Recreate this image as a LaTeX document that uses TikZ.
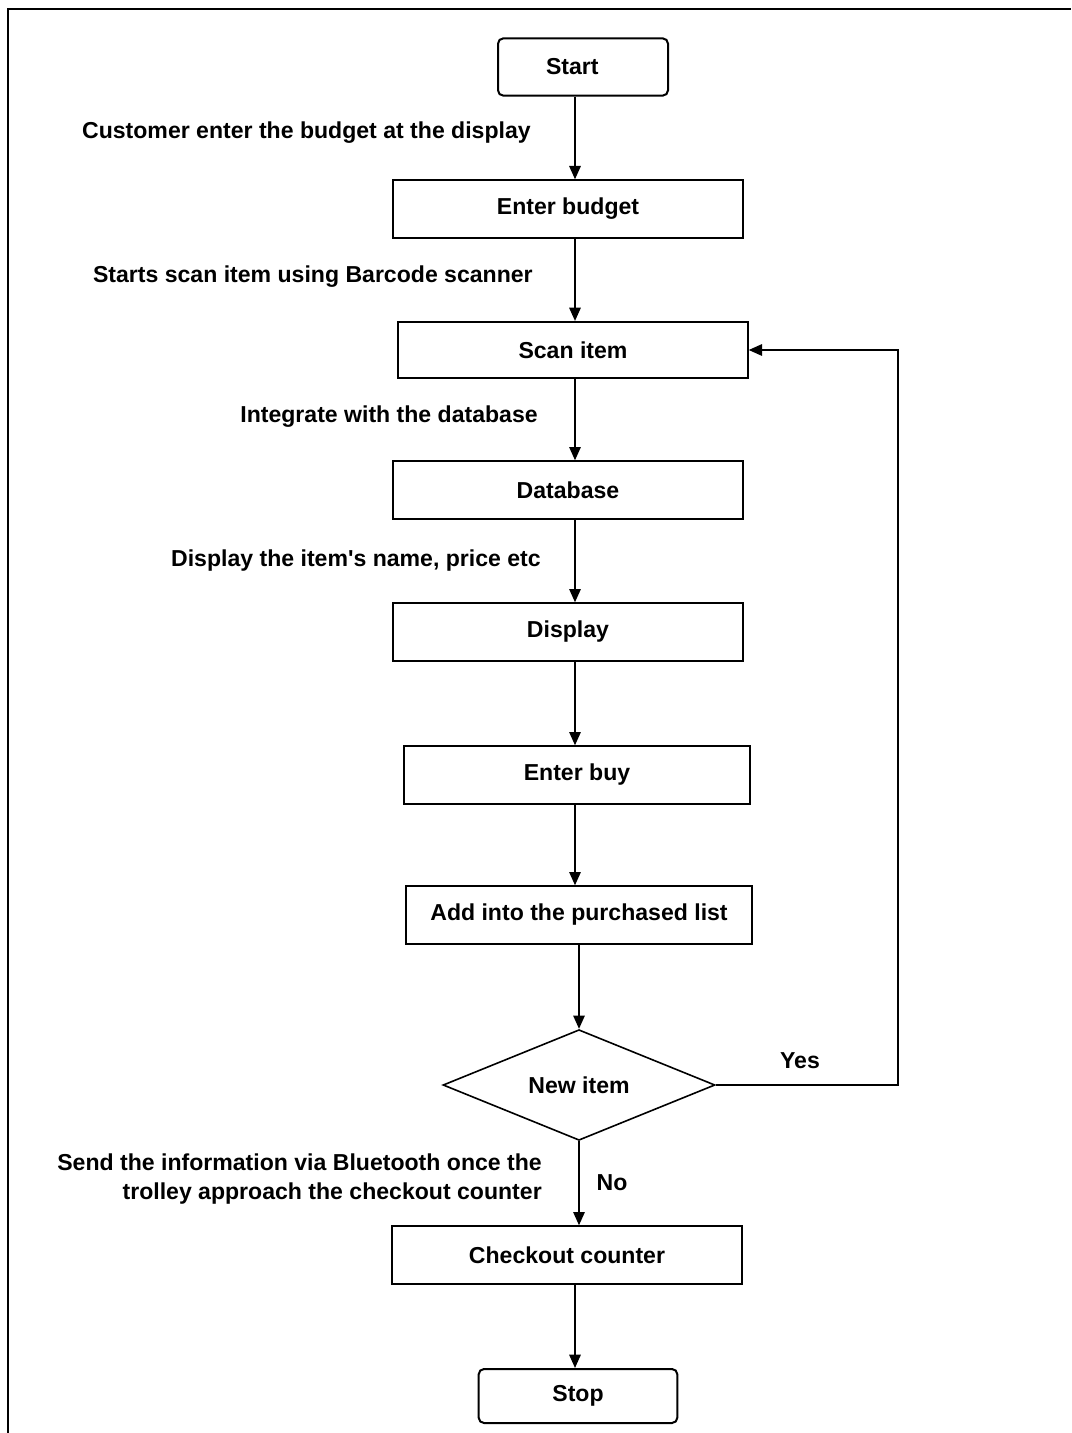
\documentclass[tikz,border=0pt]{standalone}
\usepackage{fontspec}
\setmainfont{Liberation Sans}
\newfontfamily\plainfnt{Liberation Sans}
\usetikzlibrary{arrows.meta,shapes.geometric}
\tikzset{
  box/.style={draw, line width=1.5pt, minimum width=262pt, minimum height=43pt, inner sep=0pt, font=\fontsize{17.3}{21.75}\selectfont\bfseries},
  term/.style={box, rounded corners=4pt},
  dec/.style={draw, diamond, line width=1.2pt, minimum width=204pt, minimum height=83pt, aspect=2.45, inner sep=0pt, font=\fontsize{17.3}{21.75}\selectfont\bfseries},
  arr/.style={line width=1.5pt, -{Triangle[length=10pt,width=8.5pt]}},
  lbl/.style={inner sep=0pt, font=\fontsize{17.3}{21.75}\selectfont\bfseries},
}
\begin{document}
\begin{tikzpicture}[x=0.75pt,y=-0.75pt]
\useasboundingbox (0,0) rectangle (1071,1433);
\draw[line width=1.5pt] (8,1433) -- (8,9) -- (1071,9);
\coordinate (X) at (575,0);
\node[term, minimum width=127.5pt, text width=118pt, align=center] (start) at (583,67) {\hspace*{-16pt}Start};
\node[box] (budget) at (568,209) {Enter budget};
\node[box, minimum height=42pt] (scan) at (573,350) {Scan item};
\node[box] (db) at (568,490) {Database};
\node[box] (disp) at (568,632) {Display};
\node[box, minimum width=259.5pt] (buy) at (577,775) {Enter buy};
\node[box, minimum width=260pt] (add) at (579,915) {Add into the purchased list};
\node[dec] (new) at (579,1085) {New item};
\node[box] (check) at (567,1255) {Checkout counter};
\node[term, minimum width=149pt, minimum height=40.5pt] (stop) at (578,1396) {Stop};
\coordinate (loopA) at (898,1085);
\coordinate (loopB) at (898,350);

\draw[arr] (start.south -| X) -- (budget.north -| X);
\draw[arr] (budget.south -| X) -- (scan.north -| X);
\draw[arr] (scan.south -| X) -- (db.north -| X);
\draw[arr] (db.south -| X) -- (disp.north -| X);
\draw[arr] (disp.south -| X) -- (buy.north -| X);
\draw[arr] (buy.south -| X) -- (add.north -| X);
\draw[arr] (add.south -| new) -- (new.north);
\draw[arr] (new.south) -- (check.north -| new);
\draw[arr] (check.south -| X) -- (stop.north -| X);
\draw[arr] (new.east) -- (loopA) -- (loopB) -- (scan.east);

\node[lbl, anchor=east] (l1) at (531,133) {Customer enter the budget at the display};
\node[lbl, anchor=east] (l2) at (533,277) {Starts scan item using Barcode scanner};
\node[lbl, anchor=east] (l3) at (538,417) {Integrate with the database};
\node[lbl, anchor=east] (l4) at (541,561) {Display the item{\plainfnt\bfseries '}s name, price etc};
\node[lbl] (yes) at (800,1061) {Yes};
\node[lbl] (no) at (612,1183) {No};
\node[lbl, anchor=east, align=right] (l5) at (542,1179) {Send the information via Bluetooth once the\\trolley approach the checkout counter};
\end{tikzpicture}
\end{document}
